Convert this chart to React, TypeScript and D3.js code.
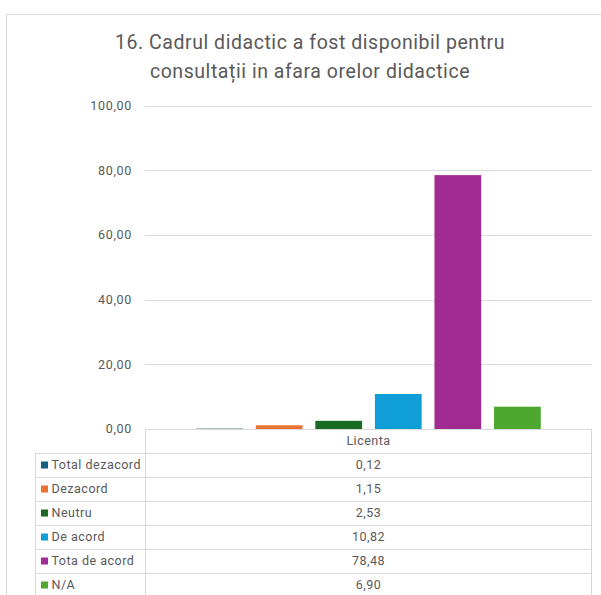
import { useEffect, useRef } from 'react';
import * as d3 from 'd3';

// Chart data
const categories = ['Licenta'];
const seriesNames = ['Total dezacord', 'Dezacord', 'Neutru', 'De acord', 'Tota de acord', 'N/A'];
const seriesValues = [0.12, 1.15, 2.53, 10.82, 78.48, 6.9];
const seriesColors = ['#156082', '#E97132', '#196B24', '#0F9ED5', '#A02B93', '#4EA72E'];
const yTicks = [0, 20, 40, 60, 80, 100];
const titleLines = ['16. Cadrul didactic a fost disponibil pentru', 'consultații in afara orelor didactice'];

const WIDTH = 601;
const HEIGHT = 595;
const FONT = 'Roboto, "Noto Sans", sans-serif';
const TEXT = '#595959';
const GRID = '#d9d9d9';

const fmt = (v: number) => d3.format('.2f')(v).replace('.', ',');

export default function App() {
    const svgRef = useRef<SVGSVGElement>(null);

    useEffect(() => {
        if (!svgRef.current) return;
        const svg = d3.select(svgRef.current);
        svg.selectAll('*').remove();

        const plot = { left: 145, right: 592, top: 105.5, bottom: 429 };
        const tableLeft = 35;
        const rowH = 24;

        // chart frame
        svg.append('rect')
            .attr('x', 6.5).attr('y', 14.5)
            .attr('width', 620).attr('height', 620)
            .attr('fill', 'white')
            .attr('stroke', GRID);

        // title
        svg.append('text')
            .attr('text-anchor', 'middle')
            .attr('fill', TEXT)
            .attr('font-family', FONT)
            .attr('font-size', '19.5px')
            .attr('letter-spacing', '0.55px')
            .selectAll('tspan')
            .data(titleLines)
            .enter()
            .append('tspan')
            .attr('x', 310)
            .attr('y', (_, i) => 49 + i * 29)
            .text(d => d);

        const y = d3.scaleLinear().domain([0, 100]).range([plot.bottom, plot.top]);
        const xCat = d3.scaleBand().domain(categories).range([plot.left, plot.right]);
        const xSeries = d3.scaleBand()
            .domain(seriesNames)
            .range([0, xCat.bandwidth()])
            .paddingInner(0.215)
            .paddingOuter(0.86);

        // gridlines + y labels
        const g = svg.append('g');
        g.selectAll('line.grid')
            .data(yTicks)
            .enter()
            .append('line')
            .attr('x1', plot.left).attr('x2', plot.right)
            .attr('y1', d => Math.round(y(d)) + 0.5)
            .attr('y2', d => Math.round(y(d)) + 0.5)
            .attr('stroke', GRID)
            .attr('stroke-width', 1);

        g.selectAll('text.tick')
            .data(yTicks)
            .enter()
            .append('text')
            .attr('x', 132)
            .attr('y', d => y(d))
            .attr('dy', '0.35em')
            .attr('text-anchor', 'end')
            .attr('fill', TEXT)
            .attr('font-family', FONT)
            .attr('font-size', '12.5px')
            .attr('letter-spacing', '0.7px')
            .text(d => fmt(d));

        // bars
        categories.forEach(cat => {
            svg.append('g')
                .selectAll('rect')
                .data(seriesValues)
                .enter()
                .append('rect')
                .attr('x', (_, i) => (xCat(cat) || 0) + (xSeries(seriesNames[i]) || 0))
                .attr('width', xSeries.bandwidth())
                .attr('y', d => y(d))
                .attr('height', d => y(0) - y(d))
                .attr('fill', (_, i) => seriesColors[i]);
        });

        // data table
        const t = svg.append('g').attr('fill', 'none').attr('stroke', GRID).attr('stroke-width', 1);
        const rows = seriesNames.length;
        const tableBottom = plot.bottom + rowH * (rows + 1);
        // header row (no left cell)
        t.append('line')
            .attr('x1', plot.left).attr('x2', plot.right)
            .attr('y1', plot.bottom + 0.5).attr('y2', plot.bottom + 0.5);
        d3.range(rows + 1).forEach(i => {
            const yy = plot.bottom + rowH * (i + 1) + 0.5;
            t.append('line')
                .attr('x1', tableLeft).attr('x2', plot.right)
                .attr('y1', yy).attr('y2', yy);
        });
        t.append('line')
            .attr('x1', tableLeft + 0.5).attr('x2', tableLeft + 0.5)
            .attr('y1', plot.bottom + rowH).attr('y2', tableBottom);
        t.append('line')
            .attr('x1', plot.left + 0.5).attr('x2', plot.left + 0.5)
            .attr('y1', plot.bottom).attr('y2', tableBottom);
        t.append('line')
            .attr('x1', plot.right - 0.5).attr('x2', plot.right - 0.5)
            .attr('y1', plot.bottom).attr('y2', tableBottom);

        const colCenter = (xCat(categories[0]) || 0) + xCat.bandwidth() / 2;
        const cellText = (sel: d3.Selection<SVGTextElement, unknown, null, undefined>) =>
            sel.attr('fill', TEXT)
                .attr('font-family', FONT)
                .attr('font-size', '12.5px')
                .attr('letter-spacing', '0.5px')
                .attr('dy', '0.35em');

        svg.append('text')
            .attr('x', colCenter)
            .attr('y', plot.bottom + rowH / 2)
            .attr('text-anchor', 'middle')
            .call(cellText)
            .text(categories[0]);

        const rowsG = svg.append('g');
        seriesNames.forEach((name, i) => {
            const cy = plot.bottom + rowH * (i + 1) + rowH / 2;
            rowsG.append('rect')
                .attr('x', 41).attr('y', cy - 3.5)
                .attr('width', 7).attr('height', 7)
                .attr('fill', seriesColors[i]);
            rowsG.append('text')
                .attr('x', 51.5)
                .attr('y', cy)
                .call(cellText)
                .text(name);
            rowsG.append('text')
                .attr('x', colCenter)
                .attr('y', cy)
                .attr('text-anchor', 'middle')
                .call(cellText)
                .text(fmt(seriesValues[i]));
        });
    }, []);

    return (
        <div style={{ position: 'fixed', left: 0, top: 0, width: WIDTH, height: HEIGHT, background: 'white' }}>
            <svg ref={svgRef} width={WIDTH} height={HEIGHT} style={{ display: 'block' }} />
        </div>
    );
}
